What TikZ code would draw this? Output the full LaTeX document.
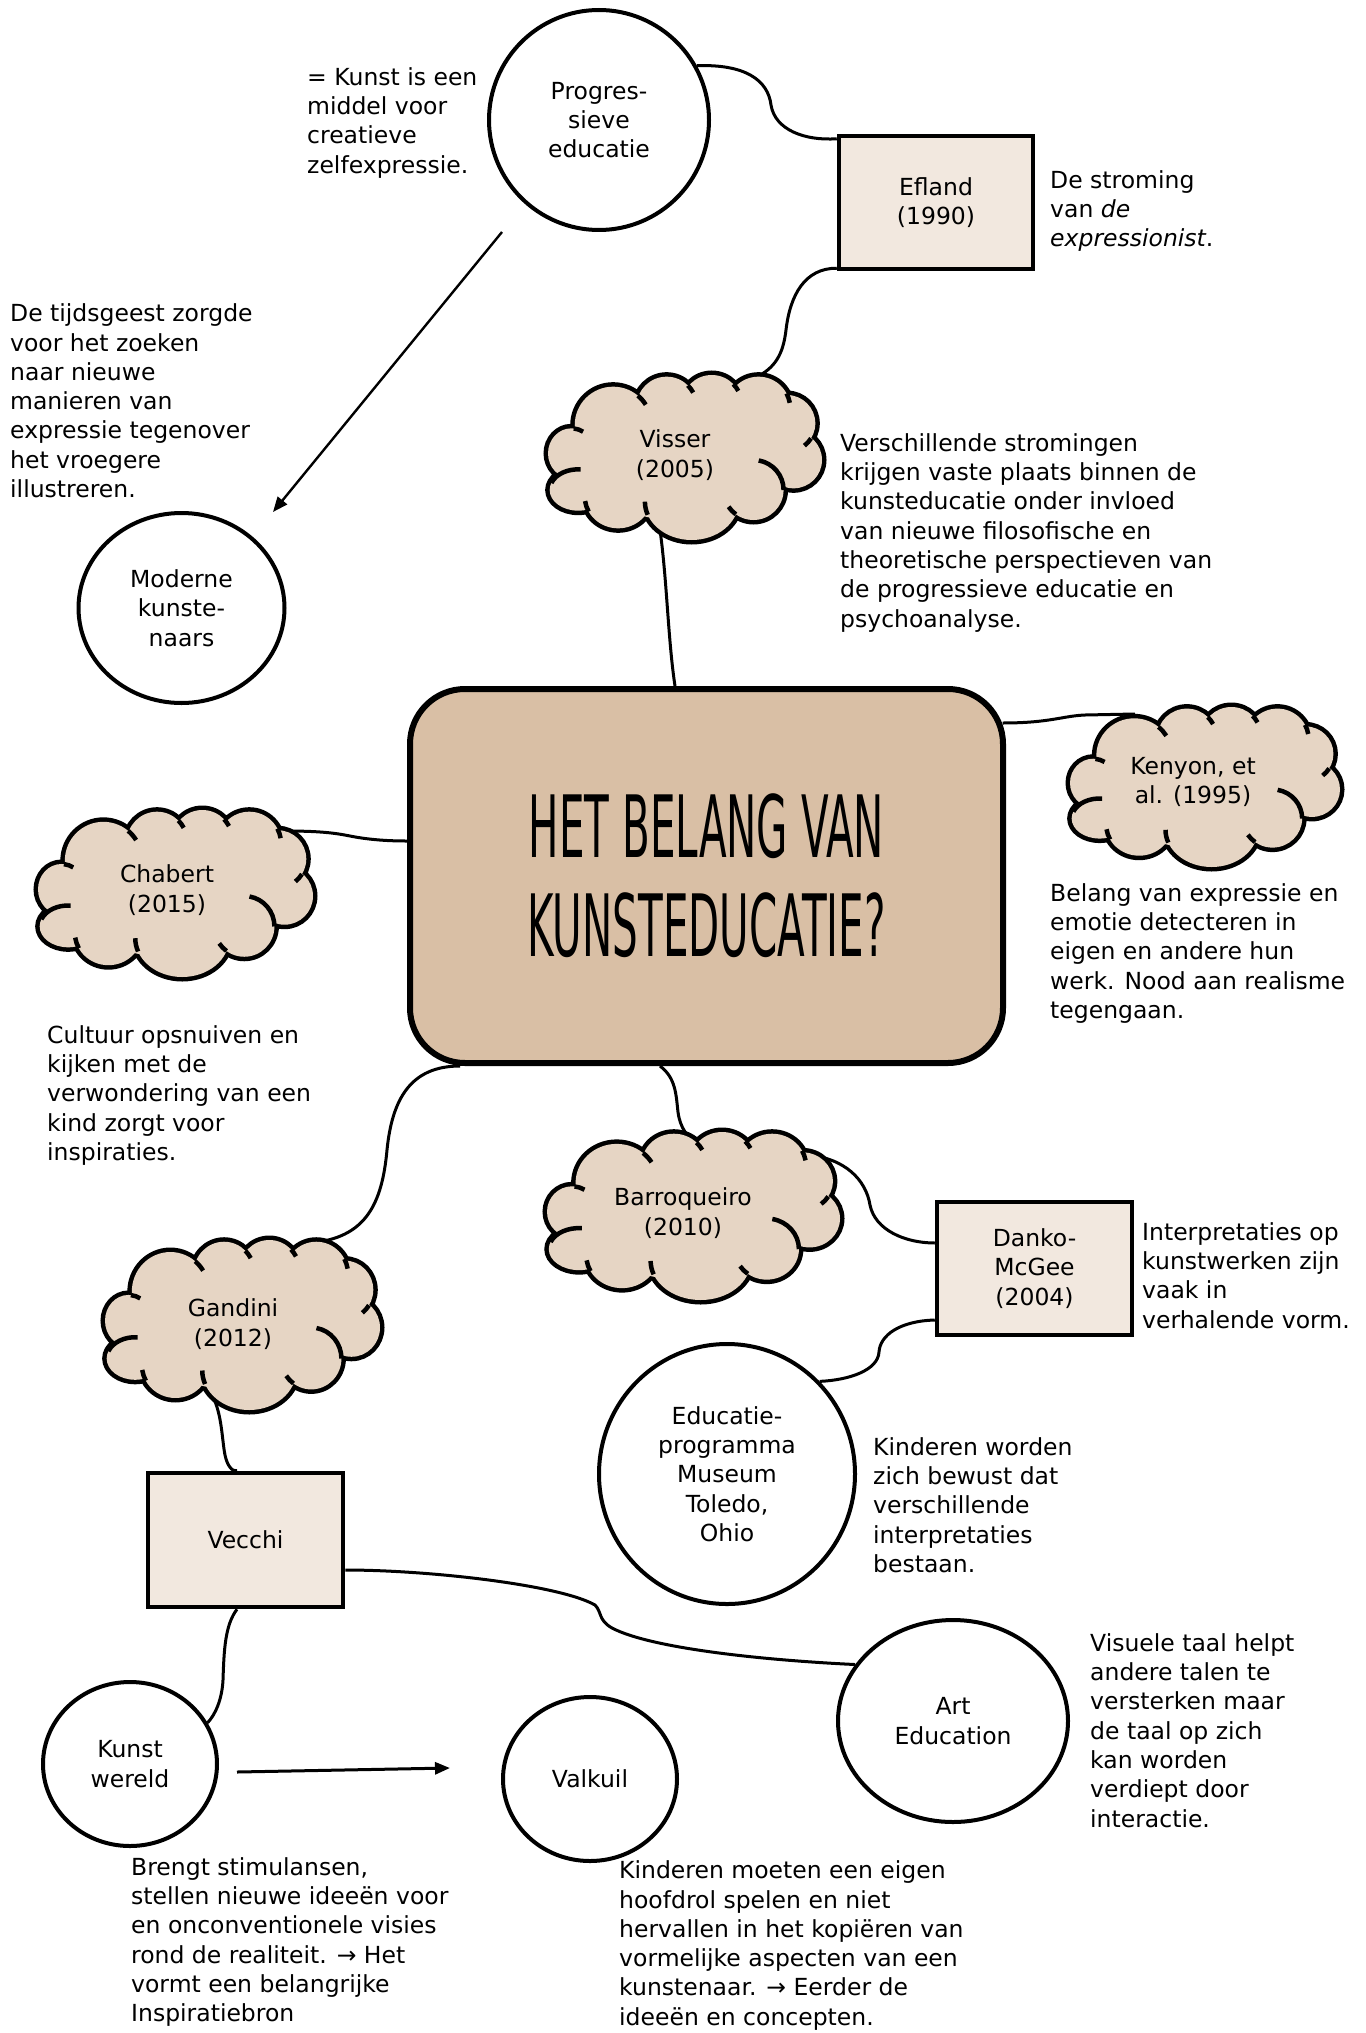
\documentclass[tikz,border=0pt]{standalone}
\usepackage{fontspec}
\setmainfont{DejaVu Sans}
\newfontfamily\titlefont[FakeStretch=0.47]{DejaVu Sans}
\usetikzlibrary{arrows.meta,shapes.geometric}

\definecolor{corefill}{HTML}{D9BFA5}
\definecolor{cloudfill}{HTML}{E6D5C4}
\definecolor{boxfill}{HTML}{F2E8DF}

\pgfdeclarelayer{bg}
\pgfsetlayers{bg,main}

\newcommand\bodysize{\fontsize{23.5}{29.3}\selectfont}

% lobes of the cloud outline, in an 820 x 495 design frame (y pointing down)
\newcommand\cloudlobes{%
  (155,280) ellipse [x radius=70, y radius=75]
  (280,195) circle [radius=115]
  (440,140) circle [radius=90]
  (575,135) circle [radius=90]
  (715,145) circle [radius=95]
  (800,190) circle [radius=85]
  (820,300) circle [radius=85]
  (700,390) circle [radius=90]
  (515,425) ellipse [x radius=140, y radius=115]
  (295,410) ellipse [x radius=100, y radius=95]
  (175,390) ellipse [x radius=85, y radius=62]%
}
% cloud: centre x, centre y (measured downwards), width, height
\newcommand\cloudart[4]{%
  \begin{scope}[shift={(#1,-#2)}, xscale=#3/820, yscale=-#4/495, shift={(-495,-292.5)}]
    \draw[line width=9pt] \cloudlobes;
    \fill[cloudfill] \cloudlobes (495,292.5) ellipse [x radius=330, y radius=190];
    \draw[line width=4.5pt]
      (700,390) ++(-80:90) arc[start angle=-80, end angle=0, radius=90]
      (175,390) ++(200:85 and 62) arc[start angle=200, end angle=275, x radius=85, y radius=62]
      (155,280) ++(-84:70 and 75) arc[start angle=-84, end angle=-60, x radius=70, y radius=75]
      (280,195) ++(-50:115) arc[start angle=-50, end angle=-32, radius=115]
      (440,140) ++(-45:90) arc[start angle=-45, end angle=-28, radius=90]
      (575,135) ++(-44:90) arc[start angle=-44, end angle=-28, radius=90]
      (715,145) ++(-28:95) arc[start angle=-28, end angle=-10, radius=95]
      (800,190) ++(32:85) arc[start angle=32, end angle=52, radius=85]
      (700,390) ++(126:90) arc[start angle=126, end angle=146, radius=90]
      (515,425) ++(160:140 and 115) arc[start angle=160, end angle=180, x radius=140, y radius=115]
      (295,410) ++(152:100 and 95) arc[start angle=152, end angle=172, x radius=100, y radius=95];
  \end{scope}}

\tikzset{
  bubble/.style={ellipse, draw, fill=white, line width=4pt, inner sep=0pt, align=center, font=\bodysize},
  refbox/.style={rectangle, draw, fill=boxfill, line width=4.5pt, inner sep=0pt, align=center, font=\bodysize},
  cloudlabel/.style={ellipse, inner sep=0pt, align=center, font=\bodysize},
  note/.style={anchor=north west, inner sep=0pt, align=left, font=\bodysize},
  link/.style={line width=3pt},
  pointer/.style={line width=2.4pt, -{Triangle[length=15pt, width=12pt]}},
}

\begin{document}
\begin{tikzpicture}[x=1pt, y=1pt]
\useasboundingbox (0,0) rectangle (1365,-2033);
\begin{pgfonlayer}{bg}
\fill[white] (0,0) rectangle (1365,-2033);
\end{pgfonlayer}

% central question
\node[rectangle, rounded corners=55pt, draw, fill=corefill, line width=6pt,
      minimum width=593pt, minimum height=374pt, align=center,
      font={\titlefont\fontsize{86}{99}\selectfont}]
  (core) at (706.5,-876) {HET BELANG VAN\\KUNSTEDUCATIE?};

% circles
\node[bubble, minimum width=220pt, minimum height=220pt] (prog) at (599,-120) {Progres-\\sieve\\educatie};
\node[bubble, minimum width=206pt, minimum height=190pt] (moderne) at (181.5,-608) {Moderne\\kunste-\\naars};
\node[bubble, minimum width=256pt, minimum height=260pt] (edu) at (727,-1474) {Educatie-\\programma\\Museum\\Toledo,\\Ohio};
\node[bubble, minimum width=174pt, minimum height=164pt] (kunst) at (130,-1764) {Kunst\\wereld};
\node[bubble, minimum width=174pt, minimum height=164pt] (valkuil) at (590,-1779) {Valkuil};
\node[bubble, minimum width=230pt, minimum height=202pt] (art) at (953,-1721) {Art\\Education};

% source boxes
\node[refbox, minimum width=194pt, minimum height=133pt] (efland) at (936,-202.5) {Efland\\(1990)};
\node[refbox, minimum width=195pt, minimum height=133pt] (danko) at (1034.5,-1268.5) {Danko-\\McGee\\(2004)};
\node[refbox, minimum width=195pt, minimum height=134pt] (vecchi) at (245.5,-1540) {Vecchi};

% clouds
\cloudart{685}{457.5}{274}{165}
\node[cloudlabel, minimum width=234pt, minimum height=135pt] (visser) at (675,-455) {Visser\\(2005)};
\cloudart{1205}{787}{270}{160}
\node[cloudlabel, minimum width=230pt, minimum height=130pt] (kenyon) at (1193,-782) {Kenyon, et\\al. (1995)};
\cloudart{175.5}{893.5}{275}{167}
\node[cloudlabel, minimum width=235pt, minimum height=137pt] (chabert) at (167,-890) {Chabert\\(2015)};
\cloudart{693.5}{1216}{293}{168}
\node[cloudlabel, minimum width=253pt, minimum height=138pt] (barro) at (683,-1213) {Barroqueiro\\(2010)};
\cloudart{242.5}{1325}{275}{170}
\node[cloudlabel, minimum width=235pt, minimum height=140pt] (gandini) at (233,-1324) {Gandini\\(2012)};

% notes
\node[note] (noteA) at (307,-64.5) {\strut = Kunst is een\\middel voor\\creatieve\\zelfexpressie.};
\node[note] (noteB) at (1050,-167.5) {\strut De stroming\\van \textit{de}\\\textit{expressionist}.};
\node[note] (noteC) at (10,-301) {\strut De tijdsgeest zorgde\\voor het zoeken\\naar nieuwe\\manieren van\\expressie tegenover\\het vroegere\\illustreren.};
\node[note] (noteD) at (840,-430.5) {\strut Verschillende stromingen\\krijgen vaste plaats binnen de\\kunsteducatie onder invloed\\van nieuwe filosofische en\\theoretische perspectieven van\\de progressieve educatie en\\psychoanalyse.};
\node[note] (noteE) at (1050,-880.5) {\strut Belang van expressie en\\emotie detecteren in\\eigen en andere hun\\werk. Nood aan realisme\\tegengaan.};
\node[note] (noteF) at (47,-1022.5) {\strut Cultuur opsnuiven en\\kijken met de\\verwondering van een\\kind zorgt voor\\inspiraties.};
\node[note] (noteG) at (1142,-1219.5) {\strut Interpretaties op\\kunstwerken zijn\\vaak in\\verhalende vorm.};
\node[note] (noteH) at (873,-1434.5) {\strut Kinderen worden\\zich bewust dat\\verschillende\\interpretaties\\bestaan.};
\node[note] (noteI) at (1090,-1630.5) {\strut Visuele taal helpt\\andere talen te\\versterken maar\\de taal op zich\\kan worden\\verdiept door\\interactie.};
\node[note] (noteJ) at (131,-1854.5) {\strut Brengt stimulansen,\\stellen nieuwe ideeën voor\\en onconventionele visies\\rond de realiteit. → Het\\vormt een belangrijke\\Inspiratiebron};
\node[note] (noteK) at (619,-1858) {\strut Kinderen moeten een eigen\\hoofdrol spelen en niet\\hervallen in het kopiëren van\\vormelijke aspecten van een\\kunstenaar. → Eerder de\\ideeën en concepten.};

% connectors, kept underneath the shapes
\begin{pgfonlayer}{bg}
\draw[link] (prog.29) .. controls (745,-64) and (768,-80) .. (771,-105)
  .. controls (775,-130) and (805,-141) .. ([yshift=-5pt]efland.north west);
\draw[link] ([yshift=3pt]efland.south west) .. controls (805,-268) and (790,-295) .. (786,-330)
  .. controls (783,-355) and (775,-368) .. ([shift={(80pt,77pt)}]visser.center);
\draw[link] ([shift={(-15pt,-75pt)}]visser.center) .. controls (667,-580) and (668,-640) .. ([xshift=-31.5pt]core.north);
\draw[pointer] ([shift={(-97pt,-112pt)}]prog.center) -- ([shift={(91.5pt,96pt)}]moderne.center);
\draw[link] ([shift={(296pt,153pt)}]core.center) .. controls (1050,-723) and (1062,-716) .. (1085,-715)
  -- ([shift={(-58pt,68pt)}]kenyon.center);
\draw[link] ([shift={(118pt,59pt)}]chabert.center) .. controls (320,-831) and (335,-833) .. (350,-836)
  .. controls (370,-840) and (390,-841) .. ([yshift=35pt]core.west);
\draw[link] ([xshift=-246.5pt]core.south) .. controls (410,-1066) and (392,-1100) .. (387,-1150)
  .. controls (382,-1205) and (365,-1235) .. ([shift={(85pt,82pt)}]gandini.center);
\draw[link] ([xshift=-46.5pt]core.south) .. controls (676,-1078) and (676,-1095) .. (678,-1112)
  .. controls (680,-1128) and (688,-1138) .. ([shift={(14pt,70pt)}]barro.center);
\draw[link] ([shift={(124pt,58pt)}]barro.center) .. controls (845,-1158) and (866,-1180) .. (870,-1205)
  .. controls (875,-1230) and (905,-1243) .. ([yshift=25.5pt]danko.west);
\draw[link] ([yshift=-51.5pt]danko.west) .. controls (900,-1321) and (880,-1335) .. (879,-1352)
  .. controls (878,-1370) and (850,-1380) .. (edu.45);
\draw[link] ([shift={(-20pt,-73pt)}]gandini.center) .. controls (222,-1415) and (222,-1440) .. (225,-1455)
  .. controls (227,-1465) and (232,-1472) .. ([xshift=-8.5pt]vecchi.north);
\draw[link] ([yshift=-30pt]vecchi.east) .. controls (430,-1570) and (560,-1585) .. (595,-1605)
  .. controls (602,-1612) and (598,-1620) .. (612,-1628)
  .. controls (650,-1648) and (760,-1660) .. (art.150);
\draw[link] ([xshift=-8.5pt]vecchi.south) .. controls (225,-1625) and (224,-1650) .. (223,-1680)
  .. controls (222,-1700) and (215,-1715) .. (kunst.28);
\draw[pointer, line width=3pt] ([shift={(107pt,-8pt)}]kunst.center) -- ([shift={(-140pt,11pt)}]valkuil.center);
\end{pgfonlayer}
\end{tikzpicture}
\end{document}
